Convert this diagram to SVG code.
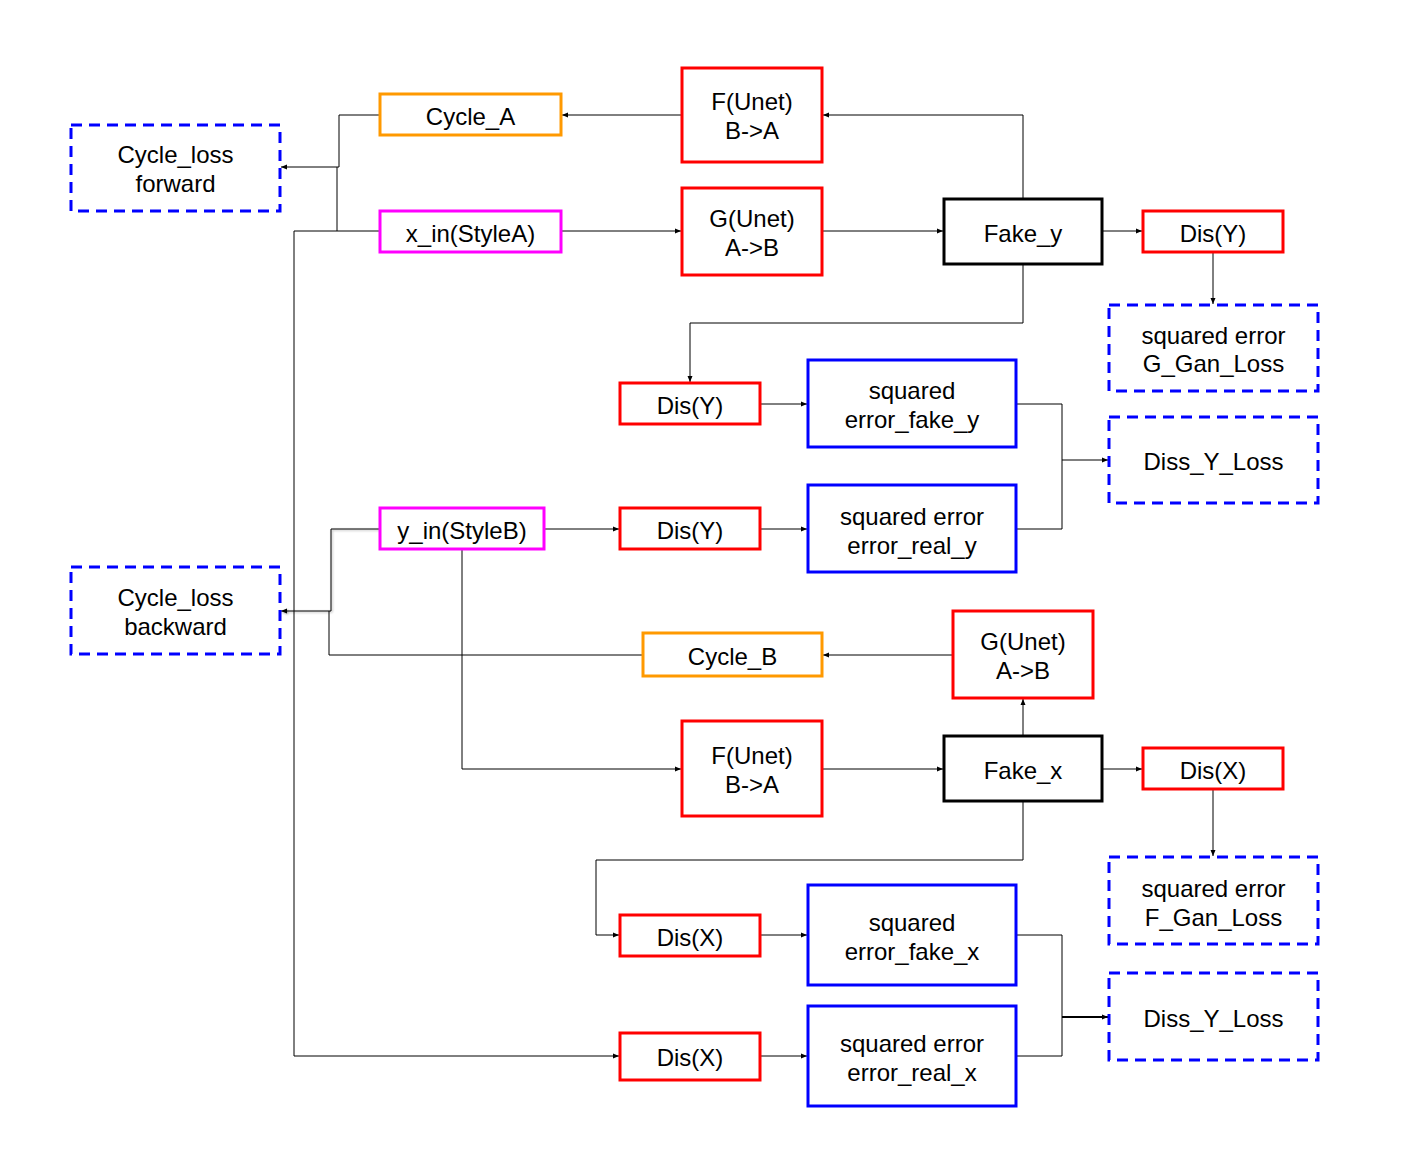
<svg xmlns="http://www.w3.org/2000/svg" width="1409" height="1163" viewBox="0 0 1409 1163">
  <style>
    .box { fill: #ffffff; }
    .red { stroke: #ff0000; stroke-width: 3; }
    .orange { stroke: #ff9900; stroke-width: 3; }
    .magenta { stroke: #ff00ff; stroke-width: 3; }
    .black { stroke: #000000; stroke-width: 3; }
    .blue { stroke: #0000ff; stroke-width: 3; }
    .dash { stroke: #0000ff; stroke-width: 3; stroke-dasharray: 11 7; }
    text { font-family: "Liberation Sans", Arial, sans-serif; font-size: 24px; fill: #000000; text-anchor: middle; dominant-baseline: central; }
    .wire { fill: none; stroke: #000000; stroke-width: 1; }
  </style>
  <defs>
    <marker id="arr" markerWidth="7" markerHeight="6" refX="6" refY="3" orient="auto" markerUnits="userSpaceOnUse">
      <path d="M0,0.5 L6,3 L0,5.5 Z" fill="#000000"/>
    </marker>
  </defs>
  <rect width="1409" height="1163" fill="#ffffff"/>

  <g id="connectors">
    <!-- forward cycle -->
    <path class="wire" d="M682,115 H562" marker-end="url(#arr)"/>
    <path class="wire" d="M380,115 H339 V167 H281" marker-end="url(#arr)"/>
    <path class="wire" d="M380,231 H337 V167"/>
    <path class="wire" d="M337,231 H294 V1056 H619" marker-end="url(#arr)"/>
    <path class="wire" d="M561,231 H681" marker-end="url(#arr)"/>
    <path class="wire" d="M822,231 H943" marker-end="url(#arr)"/>
    <path class="wire" d="M1023,199 V115 H823" marker-end="url(#arr)"/>
    <path class="wire" d="M1102,231 H1142" marker-end="url(#arr)"/>
    <path class="wire" d="M1213,252 V304" marker-end="url(#arr)"/>
    <path class="wire" d="M1023,264 V323 H690 V382" marker-end="url(#arr)"/>
    <path class="wire" d="M760,404 H807" marker-end="url(#arr)"/>
    <path class="wire" d="M1016,404 H1062 V529 H1016"/>
    <path class="wire" d="M1062,460 H1108" marker-end="url(#arr)"/>
    <!-- backward cycle -->
    <path class="wire" d="M544,529 H619" marker-end="url(#arr)"/>
    <path class="wire" d="M760,529 H807" marker-end="url(#arr)"/>
    <path class="wire" d="M380,529 H331 V611 H281" marker-end="url(#arr)" style="filter: drop-shadow(1px 1px 1px rgba(0,0,0,0.35));"/>
    <path class="wire" d="M643,655 H329 V611"/>
    <path class="wire" d="M462,549 V769 H681" marker-end="url(#arr)"/>
    <path class="wire" d="M953,655 H823" marker-end="url(#arr)"/>
    <path class="wire" d="M1023,736 V699" marker-end="url(#arr)"/>
    <path class="wire" d="M822,769 H943" marker-end="url(#arr)"/>
    <path class="wire" d="M1102,769 H1142" marker-end="url(#arr)"/>
    <path class="wire" d="M1213,789 V856" marker-end="url(#arr)"/>
    <path class="wire" d="M1023,801 V860 H596 V935 H619" marker-end="url(#arr)"/>
    <path class="wire" d="M760,935 H807" marker-end="url(#arr)"/>
    <path class="wire" d="M1016,935 H1062 V1056 H1016"/>
    <path class="wire" d="M1062,1017 H1108" marker-end="url(#arr)" style="stroke-width:2"/>
    <path class="wire" d="M760,1056 H807" marker-end="url(#arr)"/>
  </g>

  <g id="cycle-loss-forward">
    <rect class="box dash" x="71" y="125" width="209" height="86"/>
    <text x="175.5" y="154">Cycle_loss</text>
    <text x="175.5" y="183">forward</text>
  </g>
  <g id="cycle-a">
    <rect class="box orange" x="380" y="94" width="181" height="41"/>
    <text x="470.5" y="116">Cycle_A</text>
  </g>
  <g id="x-in">
    <rect class="box magenta" x="380" y="211" width="181" height="41"/>
    <text x="470.5" y="233">x_in(StyleA)</text>
  </g>
  <g id="f-unet-top">
    <rect class="box red" x="682" y="68" width="140" height="94"/>
    <text x="752" y="101">F(Unet)</text>
    <text x="752" y="130">B-&gt;A</text>
  </g>
  <g id="g-unet-top">
    <rect class="box red" x="682" y="188" width="140" height="87"/>
    <text x="752" y="218">G(Unet)</text>
    <text x="752" y="247">A-&gt;B</text>
  </g>
  <g id="fake-y">
    <rect class="box black" x="944" y="199" width="158" height="65"/>
    <text x="1023" y="233">Fake_y</text>
  </g>
  <g id="dis-y-gan">
    <rect class="box red" x="1143" y="211" width="140" height="41"/>
    <text x="1213" y="233">Dis(Y)</text>
  </g>
  <g id="g-gan-loss">
    <rect class="box dash" x="1109" y="305" width="209" height="86"/>
    <text x="1213.5" y="335">squared error</text>
    <text x="1213.5" y="363">G_Gan_Loss</text>
  </g>
  <g id="dis-y-fake">
    <rect class="box red" x="620" y="383" width="140" height="41"/>
    <text x="690" y="405">Dis(Y)</text>
  </g>
  <g id="sq-fake-y">
    <rect class="box blue" x="808" y="360" width="208" height="87"/>
    <text x="912" y="390">squared</text>
    <text x="912" y="419">error_fake_y</text>
  </g>
  <g id="diss-y-loss">
    <rect class="box dash" x="1109" y="417" width="209" height="86"/>
    <text x="1213.5" y="461">Diss_Y_Loss</text>
  </g>
  <g id="y-in">
    <rect class="box magenta" x="380" y="508" width="164" height="41"/>
    <text x="462" y="530">y_in(StyleB)</text>
  </g>
  <g id="dis-y-real">
    <rect class="box red" x="620" y="508" width="140" height="41"/>
    <text x="690" y="530">Dis(Y)</text>
  </g>
  <g id="sq-real-y">
    <rect class="box blue" x="808" y="485" width="208" height="87"/>
    <text x="912" y="516">squared error</text>
    <text x="912" y="545">error_real_y</text>
  </g>
  <g id="cycle-loss-backward">
    <rect class="box dash" x="71" y="567" width="209" height="87"/>
    <text x="175.5" y="597">Cycle_loss</text>
    <text x="175.5" y="626">backward</text>
  </g>
  <g id="cycle-b">
    <rect class="box orange" x="643" y="633" width="179" height="43"/>
    <text x="732.5" y="656">Cycle_B</text>
  </g>
  <g id="g-unet-bottom">
    <rect class="box red" x="953" y="611" width="140" height="87"/>
    <text x="1023" y="641">G(Unet)</text>
    <text x="1023" y="670">A-&gt;B</text>
  </g>
  <g id="f-unet-bottom">
    <rect class="box red" x="682" y="721" width="140" height="95"/>
    <text x="752" y="755">F(Unet)</text>
    <text x="752" y="784">B-&gt;A</text>
  </g>
  <g id="fake-x">
    <rect class="box black" x="944" y="736" width="158" height="65"/>
    <text x="1023" y="770">Fake_x</text>
  </g>
  <g id="dis-x-gan">
    <rect class="box red" x="1143" y="748" width="140" height="41"/>
    <text x="1213" y="770">Dis(X)</text>
  </g>
  <g id="f-gan-loss">
    <rect class="box dash" x="1109" y="857" width="209" height="87"/>
    <text x="1213.5" y="888">squared error</text>
    <text x="1213.5" y="917">F_Gan_Loss</text>
  </g>
  <g id="dis-x-fake">
    <rect class="box red" x="620" y="915" width="140" height="41"/>
    <text x="690" y="937">Dis(X)</text>
  </g>
  <g id="sq-fake-x">
    <rect class="box blue" x="808" y="885" width="208" height="100"/>
    <text x="912" y="922">squared</text>
    <text x="912" y="951">error_fake_x</text>
  </g>
  <g id="diss-x-loss">
    <rect class="box dash" x="1109" y="973" width="209" height="87"/>
    <text x="1213.5" y="1018">Diss_Y_Loss</text>
  </g>
  <g id="dis-x-real">
    <rect class="box red" x="620" y="1033" width="140" height="47"/>
    <text x="690" y="1057">Dis(X)</text>
  </g>
  <g id="sq-real-x">
    <rect class="box blue" x="808" y="1006" width="208" height="100"/>
    <text x="912" y="1043">squared error</text>
    <text x="912" y="1072">error_real_x</text>
  </g>
</svg>
